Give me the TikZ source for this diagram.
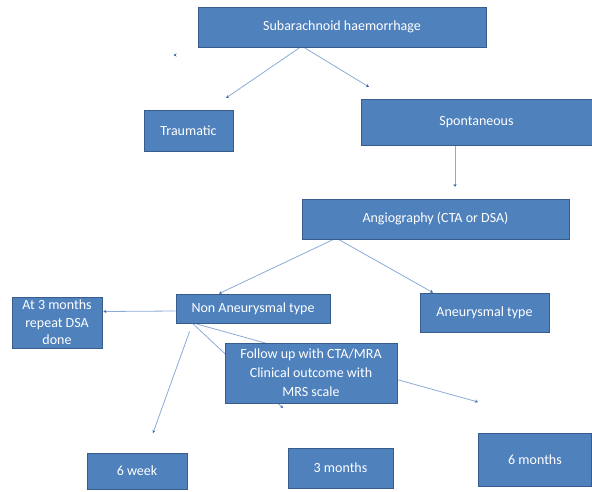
\documentclass[tikz,border=0pt]{standalone}
\usepackage{fontspec}
\setmainfont{Carlito}
\usetikzlibrary{arrows.meta,calc,backgrounds}
\definecolor{boxfill}{RGB}{79,129,189}
\definecolor{boxline}{RGB}{56,93,138}
\definecolor{conn}{RGB}{140,170,215}
\definecolor{tipc}{RGB}{60,100,170}
\tikzset{
  box/.style={draw=boxline,line width=0.8pt,fill=boxfill,text=white,inner sep=0pt,
    font=\fontsize{14}{18}\selectfont,align=center},
  arr/.style={draw=conn,line width=0.8pt,-{Stealth[length=3pt,width=3pt,color=tipc]}}
}
\begin{document}
\begin{tikzpicture}[x=1pt,y=-1pt]
\useasboundingbox (0,0) rectangle (592,491);
\node[box,minimum width=288pt,minimum height=40pt] (sah) at (342,27) {Subarachnoid haemorrhage};
\node[box,minimum width=89pt,minimum height=41pt] (trau) at (188.5,130.5) {Traumatic};
\node[box,minimum width=231pt,minimum height=46pt] (spon) at (476.5,122) {Spontaneous};
\node[box,minimum width=267pt,minimum height=40pt] (angio) at (435.5,219) {Angiography (CTA or DSA)};
\node[box,minimum width=154pt,minimum height=29pt] (non) at (253,308.5) {Non Aneurysmal type};
\node[box,minimum width=129pt,minimum height=39pt] (aneu) at (484.5,312.5) {Aneurysmal type};
\node[box,minimum width=90pt,minimum height=51pt,font=\fontsize{14}{17.5}\selectfont] (at3) at (57,322.5) {At 3 months\\repeat DSA\\done};
\node[box,minimum width=172pt,minimum height=60pt,font=\fontsize{14}{19}\selectfont] (fol) at (311,373) {Follow up with CTA/MRA\\Clinical outcome with\\MRS scale};
\node[box,minimum width=100pt,minimum height=36pt] (w6) at (137,471) {6 week};
\node[box,minimum width=105pt,minimum height=40pt] (m3) at (340.5,468) {3 months};
\node[box,minimum width=113pt,minimum height=53pt] (m6) at (535,459.5) {6 months};
\coordinate (strayA) at (173.5,55);
\coordinate (strayB) at (368.5,146);
\coordinate (trauEnd) at (226,98);
\coordinate (sponEnd) at (369,87);
\coordinate (angioEnd) at (455,187);
\coordinate (w6End) at (153,433);
\coordinate (m3End) at (283,408);
\coordinate (m6End) at (478,402);
\begin{scope}[on background layer]
\draw[arr] ($(sah.south)+(-42,0)$) -- (trauEnd);
\draw[arr] ($(sah.south)+(-38,0)$) -- (sponEnd);
\draw[arr] ($(strayA)+(0.6,0)$) -- (strayA);
\draw[arr] ($(strayB)+(0,-0.6)$) -- (strayB);
\draw[arr] ($(spon.south)+(-21.5,0)$) -- (angioEnd);
\draw[arr] ($(angio.south)+(-102,0)$) -- ($(non.north)+(-34,0)$);
\draw[arr] ($(angio.south)+(-97,0)$) -- ($(aneu.north)+(-51.5,0)$);
\draw[arr] ($(non.west)+(0,2.5)$) -- ($(at3.east)+(1,-11)$);
\draw[arr] ($(non.south west)+(14,8)$) -- (w6End);
\draw[arr] ($(non.south west)+(17,0)$) -- (m3End);
\draw[arr] ($(non.south west)+(19,0)$) -- (m6End);
\end{scope}
\end{tikzpicture}
\end{document}
